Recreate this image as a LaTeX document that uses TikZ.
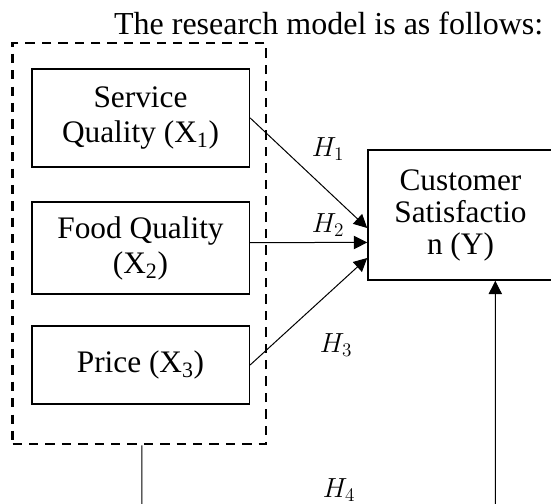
\documentclass[tikz,border=0pt]{standalone}
\usepackage{fontspec}
\setmainfont{Liberation Serif}
\usetikzlibrary{arrows.meta}

\begin{document}
\begin{tikzpicture}[x=0.75pt, y=-0.75pt, >={Triangle[length=10pt,width=10pt]},
        var/.style={draw, line width=1.2pt, minimum width=163.2pt, inner sep=0pt, align=center,
            font=\fontsize{23.5}{26.25}\selectfont},
        dep/.style={draw, line width=1.2pt, minimum width=138.75pt, minimum height=97.5pt, inner sep=0pt,
            align=center, font=\fontsize{23.5}{24}\selectfont},
        group/.style={draw, line width=2.2pt, dash pattern=on 7pt off 5.3pt, minimum width=190pt,
            minimum height=300.75pt, inner sep=0pt},
        hyp/.style={->, line width=0.75pt},
        hlabel/.style={font=\fontsize{22}{26}\selectfont}]
        \useasboundingbox (0,0) rectangle (551,504);
        \clip (0,0) rectangle (551,504);
        \node[anchor=base east, font=\fontsize{24}{28}\selectfont] (title) at (548,34) {The research model is as follows:};
        % independent variables
        \node[var, minimum height=73.3pt] (sq) at (140.5,117.9) {Service\\Quality (X\textsubscript{1})};
        \node[var, minimum height=69pt] (fq) at (140.5,248) {Food Quality\\(X\textsubscript{2})};
        \node[var, minimum height=58.5pt] (pr) at (140.5,365) {Price (X\textsubscript{3})};
        \node[group] (grp) at (139.3,243.5) {};
        % dependent variable
        \node[dep] (cs) at (460.5,215) {Customer\\Satisfactio\\n (Y)};
        \draw[hyp] (sq.east) -- ([yshift=-9.75pt]cs.west);
        \draw[hyp] ([yshift=4.1pt]fq.east) -- ([yshift=-20.6pt]cs.west);
        \draw[hyp] (pr.east) -- ([yshift=-32.25pt]cs.west);
        \coordinate (h4a) at (142,530);
        \coordinate (h4b) at (495.3,530);
        \draw[hyp] ([xshift=2pt]grp.south) -- (h4a) -- (h4b) -- ([xshift=26.1pt]cs.south);
        \node[hlabel] (h1) at (328,149) {$H_1$};
        \node[hlabel] (h2) at (328,225) {$H_2$};
        \node[hlabel] (h3) at (336,345) {$H_3$};
        \node[hlabel] (h4) at (339,490) {$H_4$};
    \end{tikzpicture}
\end{document}
